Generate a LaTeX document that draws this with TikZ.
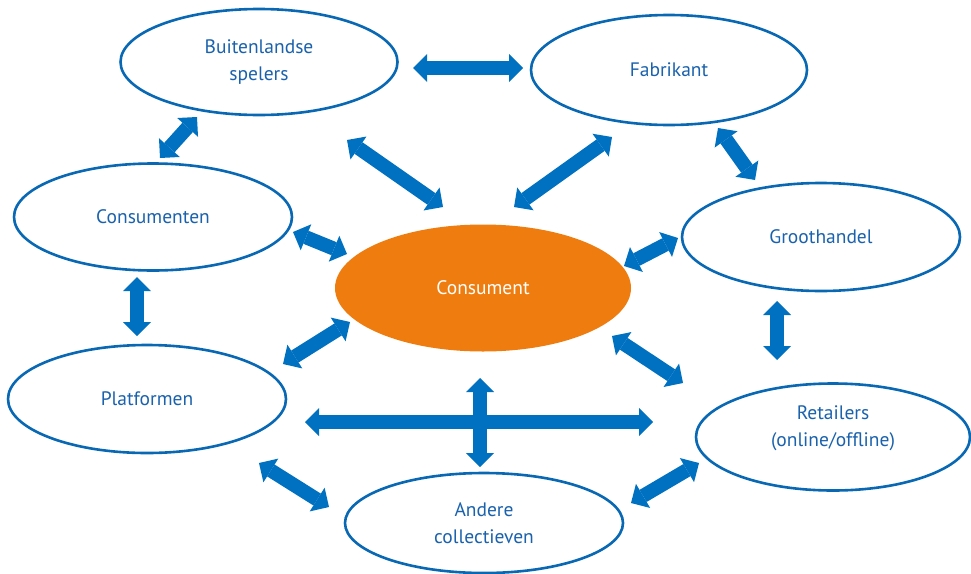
\documentclass[tikz,border=0pt]{standalone}
\usepackage{fontspec}
\setmainfont{PT Sans}
\usetikzlibrary{arrows.meta,shapes.geometric}
\definecolor{arrowblue}{HTML}{0070C0}
\definecolor{lineblue}{HTML}{0868B4}
\definecolor{textblue}{HTML}{1A62AD}
\definecolor{orangefill}{HTML}{EF7C0E}
\tikzset{
  txt/.style={text=textblue, font=\fontsize{19.5}{27}\selectfont, align=center},
  ell/.style={ellipse, draw=lineblue, line width=2.6pt, fill=white, inner sep=0pt,
    minimum width=#1, txt},
  ell/.default=278pt,
  dbl/.style={draw=arrowblue, line width=14pt,
    {Triangle[length=14pt,width=28pt,line width=0pt]}-{Triangle[length=14pt,width=28pt,line width=0pt]}}
}
\begin{document}
\begin{tikzpicture}[x=1pt,y=-1pt]
\useasboundingbox (0,0) rectangle (971,573);
% ellipses
\node[ell=277pt, minimum height=106pt] (buit) at (259,62) {Buitenlandse\\spelers};
\node[ell=276pt, minimum height=110pt] (fab) at (669,70) {Fabrikant};
\node[ell=278pt, minimum height=107pt] (cons) at (153,217) {Consumenten};
\node[ell=278pt, minimum height=108pt] (groot) at (821,237) {Groothandel};
\node[ellipse, fill=orangefill, inner sep=0pt, minimum width=296pt, minimum height=127pt,
  text=white, font=\fontsize{19.5}{27}\selectfont] (cent) at (483,288) {Consument};
\node[ell=278pt, minimum height=108pt] (plat) at (147,399) {Platformen};
\node[ell=274pt, minimum height=107pt] (ret) at (833,437) {};
\node[txt] (rettxt) at (833,428) {Retailers\\(online/offline)};
\node[ell=278pt, minimum height=100pt] (andere) at (484,523) {Andere\\collectieven};
% arrow end points
\coordinate (a1) at (413,68);  \coordinate (b1) at (523,68);
\coordinate (a2) at (197,117); \coordinate (b2) at (160,158);
\coordinate (a3) at (347,140); \coordinate (b3) at (443,207);
\coordinate (a4) at (612,137); \coordinate (b4) at (514,207);
\coordinate (a5) at (718,128); \coordinate (b5) at (755,180);
\coordinate (a6) at (293,232); \coordinate (b6) at (347,254);
\coordinate (a7) at (678,238); \coordinate (b7) at (624,266);
\coordinate (a8) at (137,277); \coordinate (b8) at (137,336);
\coordinate (a9) at (283,364); \coordinate (b9) at (350,322);
\coordinate (a10) at (777,301); \coordinate (b10) at (777,360);
\coordinate (a11) at (612,336); \coordinate (b11) at (683,383);
\coordinate (a12) at (305,422); \coordinate (b12) at (653,422);
\coordinate (a13) at (480,378); \coordinate (b13) at (480,467);
\coordinate (a14) at (259,463); \coordinate (b14) at (329,507);
\coordinate (a15) at (631,503); \coordinate (b15) at (699,463);
\foreach \i in {1,...,15} {\draw[dbl] (a\i) -- (b\i);}
\end{tikzpicture}
\end{document}
